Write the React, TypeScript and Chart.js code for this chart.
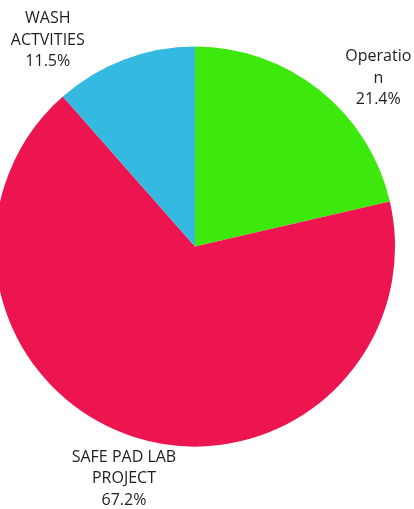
import React, { useEffect, useRef } from "react";
import { Chart, registerables } from "chart.js";
Chart.register(...registerables);

const categories = ["Operation", "SAFE PAD LAB PROJECT", "WASH ACTVITIES"];
const labelLines = [["Operatio", "n"], ["SAFE PAD LAB", "PROJECT"], ["WASH", "ACTVITIES"]];
const values = [21.4, 67.2, 11.5];
const colors = ["#3DE80C", "#EC1550", "#34B9E1"];

// label placement (layout only): angle from top clockwise in degrees, distance from centre in px
const labelAngles = [47.4, 197, 324.5];
const labelDistances = [249, 243, 253.5];

const outsideLabels = {
  id: "outsideLabels",
  afterDraw(chart: any) {
    const meta = chart.getDatasetMeta(0);
    const arc = meta.data[0];
    if (!arc) return;
    const cx = arc.x;
    const cy = arc.y;
    const ctx = chart.ctx;
    ctx.save();
    ctx.font = "16px 'Open Sans'";
    ctx.fillStyle = "#1e1e1e";
    ctx.textAlign = "center";
    ctx.textBaseline = "middle";
    const lh = 21.5;
    values.forEach((v, i) => {
      const a = (labelAngles[i] * Math.PI) / 180;
      const x = cx + labelDistances[i] * Math.sin(a);
      const y = cy - labelDistances[i] * Math.cos(a);
      const lines = [...labelLines[i], v.toFixed(1) + "%"];
      lines.forEach((t, k) => {
        ctx.fillText(t, x, y + (k - 1) * lh);
      });
    });
    ctx.restore();
  },
};

export default function App() {
  const ref = useRef<HTMLCanvasElement>(null);
  useEffect(() => {
    document.body.style.margin = "0";
    const chart = new Chart(ref.current!, {
      type: "pie",
      data: {
        labels: categories,
        datasets: [
          {
            data: values,
            backgroundColor: colors,
            borderWidth: 0,
            clip: false as any,
          } as any,
        ],
      },
      options: {
        animation: false,
        responsive: false,
        devicePixelRatio: 1,
        radius: 200,
        layout: { padding: { left: 0, right: 24, top: 47, bottom: 63 } },
        plugins: { legend: { display: false }, tooltip: { enabled: false } },
      } as any,
      plugins: [outsideLabels],
    });
    return () => chart.destroy();
  }, []);
  return (
    <div style={{ width: 414, height: 509 }}>
      <canvas ref={ref} width={414} height={509} />
    </div>
  );
}
